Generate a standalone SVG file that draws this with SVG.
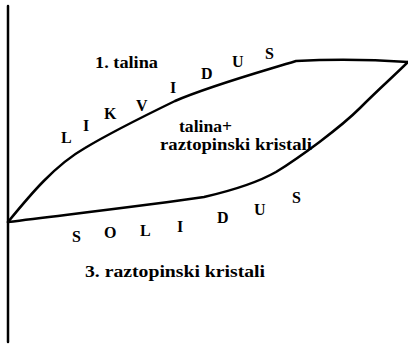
<svg xmlns="http://www.w3.org/2000/svg" width="408" height="344" viewBox="0 0 408 344">
<style>
.ln{fill:none;stroke:#000;stroke-width:2.5;stroke-linejoin:round;stroke-linecap:round}
text{font-family:'Liberation Serif','DejaVu Serif',serif;font-weight:bold;fill:#000}
.t{font-size:16px}
.c{font-size:16px}
</style>
<rect width="408" height="344" fill="#fff"/>
<g id="connectors">
<line class="ln" x1="8" y1="6" x2="8" y2="342" stroke-width="3"/>
<path id="liquidus" class="ln" d="M8,222 C30,195 55,165 85,148 C110,133 140,118 175,101 C210,86 250,75 296,61 Q350,58 408,62"/>
<path id="solidus" class="ln" d="M8,222 C80,213 150,205 204,197 C230,191 255,184 276,172 C300,157 340,128 360,108 C380,88 395,75 408,62"/>
</g>
<g id="region-liquid"><text class="t" x="95" y="68" textLength="63" lengthAdjust="spacingAndGlyphs">1. talina</text></g>
<g id="region-mixed">
<text class="t" x="179" y="132" textLength="53" lengthAdjust="spacingAndGlyphs">talina+</text>
<text class="t" x="160" y="150" textLength="152" lengthAdjust="spacingAndGlyphs">raztopinski kristali</text>
</g>
<g id="region-solid"><text class="t" x="85" y="277" textLength="180" lengthAdjust="spacingAndGlyphs">3. raztopinski kristali</text></g>
<g id="label-likvidus">
<text class="c" x="61" y="143">L</text>
<text class="c" x="83" y="131">I</text>
<text class="c" x="104" y="119">K</text>
<text class="c" x="136" y="111">V</text>
<text class="c" x="170" y="93">I</text>
<text class="c" x="201" y="79">D</text>
<text class="c" x="232" y="67">U</text>
<text class="c" x="265" y="59">S</text>
</g>
<g id="label-solidus">
<text class="c" x="72" y="242" font-size="14">S</text>
<text class="c" x="104" y="238">O</text>
<text class="c" x="140" y="236">L</text>
<text class="c" x="177" y="232">I</text>
<text class="c" x="217" y="223">D</text>
<text class="c" x="254" y="215">U</text>
<text class="c" x="292" y="203" font-size="14">S</text>
</g>
</svg>
